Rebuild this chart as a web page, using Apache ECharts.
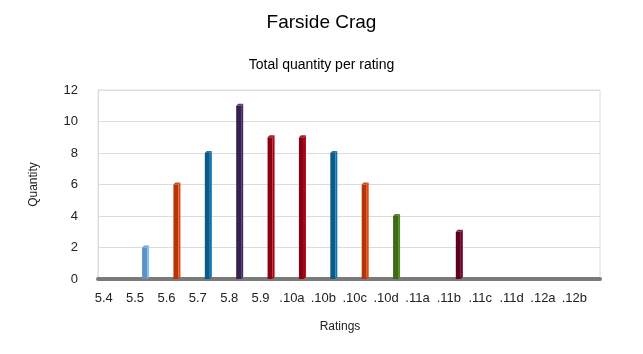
<!DOCTYPE html>
<html>
<head>
<meta charset="utf-8">
<script src="https://cdn.jsdelivr.net/npm/echarts@6/dist/echarts.min.js"></script>
<style>
  html, body { margin: 0; padding: 0; background: #fff; }
  #main { width: 643px; height: 354px; }
</style>
</head>
<body>
<div id="main"></div>
<script>
var ratings = ['5.4', '5.5', '5.6', '5.7', '5.8', '5.9', '.10a', '.10b', '.10c', '.10d', '.11a', '.11b', '.11c', '.11d', '.12a', '.12b'];
var quantity = [0, 2, 6, 8, 11, 9, 9, 8, 6, 4, 0, 3, 0, 0, 0, 0];
var yTicks = [0, 2, 4, 6, 8, 10, 12];
// one colour per rating, like the old office palette
var barColors = ['#5e93c4', '#5e93c4', '#b5350a', '#0a5a8a', '#35204e', '#8b0010', '#8b0010', '#0a5a8a', '#b5350a', '#3f6a18', '#5a0020', '#5a0020', '#5a0020', '#5a0020', '#5a0020', '#5a0020'];

var chart = echarts.init(document.getElementById('main'));

// small fake-3D column: front face, dark side, light top
function renderBar(params, api) {
  var v = api.value(1);
  if (!v) return null;
  var top = api.coord([api.value(0), v]);
  var base = api.coord([api.value(0), 0]);
  var c = barColors[params.dataIndex];
  var x0 = top[0] - 3, x1 = top[0] + 2, d = 2;
  return {
    type: 'group',
    children: [{
      type: 'rect',
      shape: { x: x0, y: top[1], width: x1 - x0, height: base[1] - top[1] },
      style: { fill: c }
    }, {
      type: 'polygon',
      shape: { points: [[x1, top[1]], [x1 + d, top[1] - d], [x1 + d, base[1] - d], [x1, base[1]]] },
      style: { fill: echarts.color.lift(c, -0.3) }
    }, {
      type: 'polygon',
      shape: { points: [[x0, top[1]], [x0 + d, top[1] - d], [x1 + d, top[1] - d], [x1, top[1]]] },
      style: { fill: echarts.color.lift(c, 0.15) }
    }]
  };
}

var option = {
  textStyle: { fontFamily: 'Liberation Sans' },
  title: [{
    text: 'Farside Crag',
    left: 'center',
    top: 8,
    textStyle: { fontSize: 19, fontWeight: 'normal', color: '#000', fontFamily: 'Liberation Sans' }
  }, {
    text: 'Total quantity per rating',
    left: 'center',
    top: 53,
    textStyle: { fontSize: 14, fontWeight: 'normal', color: '#000', fontFamily: 'Liberation Sans' }
  }],
  grid: {
    left: 98,
    right: 43,
    top: 90,
    bottom: 75,
    show: true,
    borderColor: '#dcdcdc',
    borderWidth: 1
  },
  xAxis: {
    type: 'category',
    data: ratings,
    name: 'Ratings',
    nameLocation: 'middle',
    nameGap: 42,
    nameTextStyle: { fontSize: 12, color: '#222', padding: [0, 18, 0, 0] },
    axisLine: { show: true, lineStyle: { color: '#7a7a7a', width: 4 } },
    axisTick: { show: false },
    axisLabel: {
      interval: 0,
      fontSize: 13,
      color: '#222',
      margin: 13,
      padding: [0, 20, 0, 0]
    }
  },
  yAxis: {
    type: 'value',
    min: yTicks[0],
    max: yTicks[yTicks.length - 1],
    interval: yTicks[1] - yTicks[0],
    name: 'Quantity',
    nameLocation: 'middle',
    nameGap: 58,
    nameTextStyle: { fontSize: 12, color: '#222' },
    axisLine: { show: true, lineStyle: { color: '#dcdcdc' } },
    axisTick: { show: false },
    axisLabel: { fontSize: 13, color: '#222', margin: 20 },
    splitLine: { lineStyle: { color: '#dcdcdc' } }
  },
  series: [{
    type: 'custom',
    renderItem: renderBar,
    encode: { x: 0, y: 1 },
    data: ratings.map(function (r, i) { return [i, quantity[i]]; }),
    z: 5
  }]
};

chart.setOption(option);
</script>
</body>
</html>
